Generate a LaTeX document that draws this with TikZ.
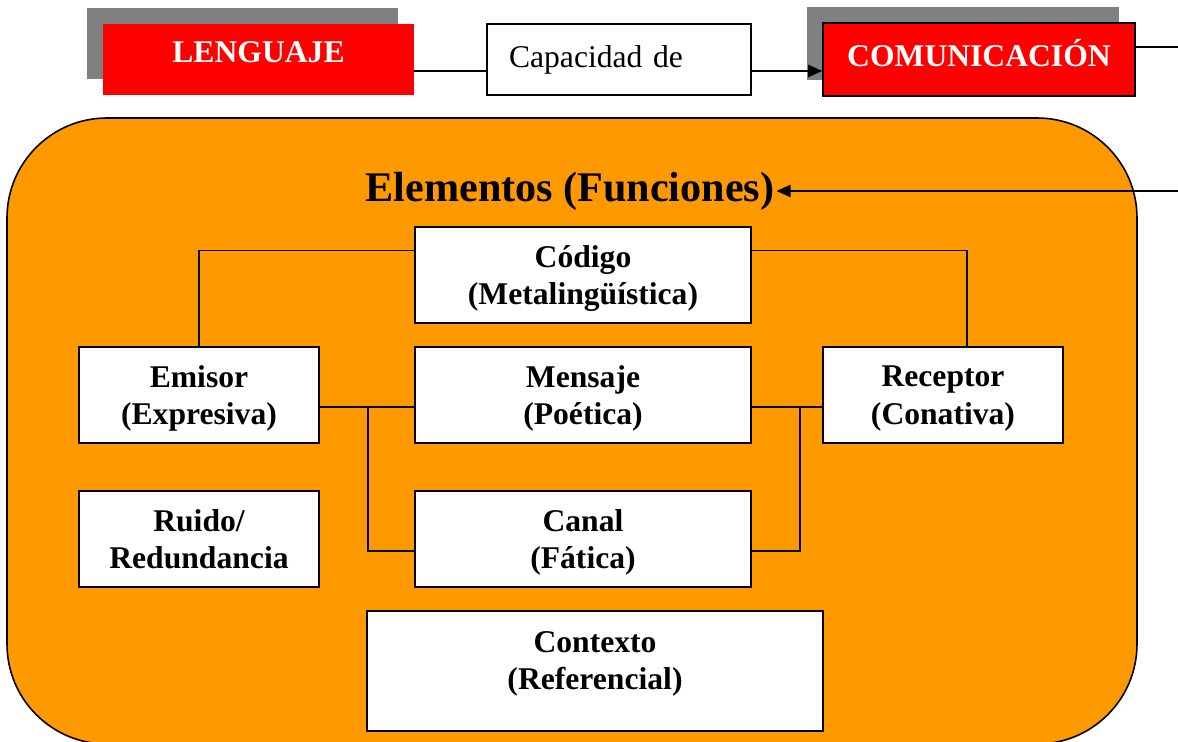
\documentclass[tikz,border=0pt]{standalone}
\usepackage{fontspec}
\setmainfont{Liberation Serif}
\usetikzlibrary{arrows.meta,calc,shadows}
\definecolor{naranja}{RGB}{255,153,0}
\definecolor{rojo}{RGB}{255,0,0}
\definecolor{sombra}{RGB}{128,128,128}

\begin{document}
\begin{tikzpicture}[x=0.02cm, y=-0.02cm,
        caja/.style={draw, fill=white, line width=0.9pt, align=center, inner sep=0pt, text depth=-3pt,
            font=\fontsize{18}{21.5}\selectfont\bfseries},
        rotulo/.style={fill=rojo, text=white, inner sep=0pt, minimum height=1.42cm, text depth=8pt,
            font=\fontsize{18}{21.5}\selectfont\bfseries,
            drop shadow={shadow xshift=-0.32cm, shadow yshift=0.32cm, opacity=1, fill=sombra}},
        linea/.style={line width=0.9pt},
        punta/.style={-{Triangle[length=8pt, width=7pt]}}]
            \useasboundingbox (0, 0) rectangle (1178, 742);
            \clip (0, 0) rectangle (1178, 742);

            \node[rotulo, minimum width=6.22cm] (lenguaje) at (258.5, 59.5) {LENGUAJE};
            \node[draw, fill=white, line width=0.9pt, align=left, text width=4.4cm, inner xsep=0.44cm,
                minimum height=1.42cm, font=\fontsize{18}{21.5}\selectfont] (capacidad) at (619, 59.5) {Capacidad de};
            \node[rotulo, draw, line width=0.9pt, minimum width=6.24cm, minimum height=1.46cm] (comunicacion) at (979, 59.5) {COMUNICACIÓN};

            \draw[fill=naranja, line width=0.9pt, rounded corners=2cm] (7, 118) rectangle (1137, 744);

            \node[inner sep=1pt, font=\fontsize{24}{28}\selectfont\bfseries] (elementos) at (570, 191) {Elementos (Funciones)};

            \node[caja, minimum width=6.72cm, minimum height=1.92cm] (codigo) at (583, 275) {Código\\(Metalingüística)};
            \node[caja, minimum width=4.8cm, minimum height=1.92cm] (emisor) at (199, 395) {Emisor\\(Expresiva)};
            \node[caja, minimum width=6.72cm, minimum height=1.92cm] (mensaje) at (583, 395) {Mensaje\\(Poética)};
            \node[caja, minimum width=4.8cm, minimum height=1.92cm] (receptor) at (943, 395) {Receptor\\(Conativa)};
            \node[caja, minimum width=4.8cm, minimum height=1.92cm] (ruido) at (199, 539) {Ruido/\\Redundancia};
            \node[caja, minimum width=6.72cm, minimum height=1.92cm] (canal) at (583, 539) {Canal\\(Fática)};
            \node[caja, minimum width=9.12cm, minimum height=2.4cm, text depth=12pt] (contexto) at (595, 671) {Contexto\\(Referencial)};

            \draw[linea] ([yshift=-0.23cm]lenguaje.east) -- ([yshift=-0.23cm]capacidad.west);
            \draw[linea, punta] ([yshift=-0.23cm]capacidad.east) -- ([yshift=-0.23cm]comunicacion.west);
            \coordinate (fuera) at (1200, 47);
            \draw[linea, punta] ([yshift=0.25cm]comunicacion.east) -- (fuera) |- (elementos.east);

            \draw[linea] ($(codigo.north west)!0.25!(codigo.south west)$) -| (emisor.north);
            \draw[linea] ($(codigo.north east)!0.25!(codigo.south east)$) -| ([xshift=0.48cm]receptor.north);
            \draw[linea] ([yshift=-0.24cm]emisor.east) -- ([yshift=-0.24cm]mensaje.west);
            \draw[linea] ([yshift=-0.24cm]mensaje.east) -- ([yshift=-0.24cm]receptor.west);
            \draw[linea] ([yshift=-0.24cm]canal.west) -| ([xshift=0.96cm, yshift=-0.24cm]emisor.east);
            \draw[linea] ([yshift=-0.24cm]canal.east) -| ([xshift=0.96cm, yshift=-0.24cm]mensaje.east);
        \end{tikzpicture}
\end{document}
